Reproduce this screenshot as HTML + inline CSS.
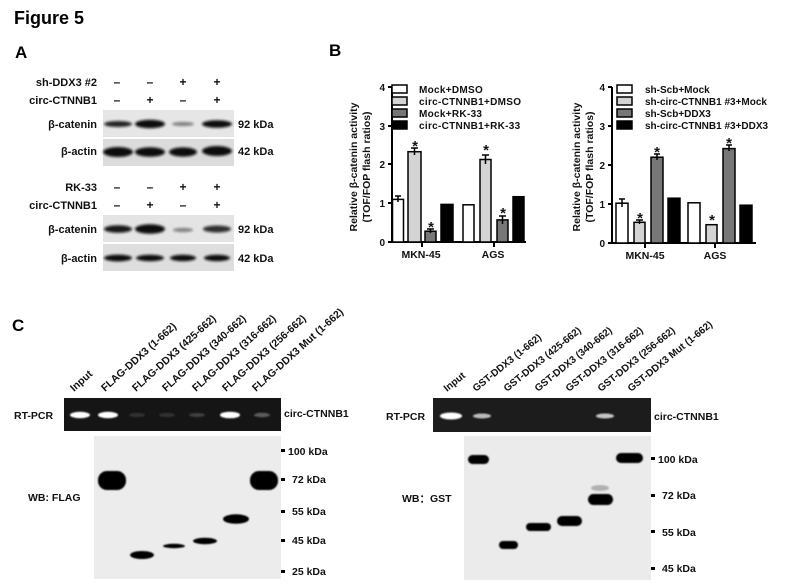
<!DOCTYPE html>
<html><head><meta charset="utf-8"><style>
html,body{margin:0;padding:0;background:#fff;}
svg{display:block;font-family:"Liberation Sans",Arial,sans-serif;}
</style></head><body>
<svg width="804" height="586" viewBox="0 0 804 586" xmlns="http://www.w3.org/2000/svg">
<defs>
<filter id="b1" x="-50%" y="-100%" width="200%" height="300%"><feGaussianBlur stdDeviation="1.3"/></filter>
<filter id="b2" x="-50%" y="-100%" width="200%" height="300%"><feGaussianBlur stdDeviation="0.8"/></filter>
</defs>
<rect width="804" height="586" fill="#fff"/>
<text x="14" y="24" font-size="18" font-weight="bold">Figure 5</text>
<text x="15" y="58" font-size="17" font-weight="bold">A</text>
<text x="329" y="56" font-size="17" font-weight="bold">B</text>
<text x="12" y="331" font-size="17" font-weight="bold">C</text>

<!-- Panel A -->
<g font-size="11" font-weight="bold" fill="#111">
<text x="97" y="86" text-anchor="end">sh-DDX3 #2</text>
<text x="97" y="104" text-anchor="end">circ-CTNNB1</text>
<text x="97" y="191" text-anchor="end">RK-33</text>
<text x="97" y="209" text-anchor="end">circ-CTNNB1</text>
<text x="97" y="128" text-anchor="end">β-catenin</text>
<text x="97" y="155" text-anchor="end">β-actin</text>
<text x="97" y="233" text-anchor="end">β-catenin</text>
<text x="97" y="262" text-anchor="end">β-actin</text>
<text x="238" y="128">92 kDa</text>
<text x="238" y="155">42 kDa</text>
<text x="238" y="233">92 kDa</text>
<text x="238" y="262">42 kDa</text>
<g text-anchor="middle" font-size="12">
<text x="117" y="86">–</text><text x="150" y="86">–</text><text x="183" y="86">+</text><text x="217" y="86">+</text>
<text x="117" y="104">–</text><text x="150" y="104">+</text><text x="183" y="104">–</text><text x="217" y="104">+</text>
<text x="117" y="191">–</text><text x="150" y="191">–</text><text x="183" y="191">+</text><text x="217" y="191">+</text>
<text x="117" y="209">–</text><text x="150" y="209">+</text><text x="183" y="209">–</text><text x="217" y="209">+</text>
</g>
</g>
<rect x="103" y="110" width="131" height="27" fill="#e6e6e6"/>
<rect x="103" y="139" width="131" height="27" fill="#dcdcdc"/>
<rect x="103" y="215" width="131" height="27" fill="#e4e4e4"/>
<rect x="103" y="244" width="131" height="27" fill="#dedede"/>
<g filter="url(#b1)" fill="#111">
<ellipse cx="118" cy="124" rx="14" ry="3" opacity="0.9"/>
<ellipse cx="150" cy="124" rx="15" ry="4.2"/>
<ellipse cx="183" cy="124" rx="11" ry="2" opacity="0.5"/>
<ellipse cx="217" cy="124" rx="15" ry="3.8"/>
<ellipse cx="118" cy="152" rx="15" ry="5"/>
<ellipse cx="150" cy="152" rx="15" ry="4.8"/>
<ellipse cx="183" cy="152" rx="14" ry="4.6"/>
<ellipse cx="217" cy="151" rx="15" ry="5"/>
<ellipse cx="118" cy="229" rx="14" ry="3.8" opacity="0.95"/>
<ellipse cx="150" cy="229" rx="15" ry="4.8"/>
<ellipse cx="183" cy="230" rx="10" ry="2" opacity="0.5"/>
<ellipse cx="217" cy="229" rx="14" ry="3.5" opacity="0.85"/>
<ellipse cx="118" cy="258" rx="14" ry="3.4"/>
<ellipse cx="150" cy="258" rx="14" ry="3.2"/>
<ellipse cx="183" cy="258" rx="13" ry="3.2"/>
<ellipse cx="217" cy="258" rx="13" ry="3.2"/>
</g>

<!-- Panel B chart 1 -->
<g font-weight="bold" fill="#111">
<g stroke="#000" stroke-width="2" fill="none">
<path d="M392 87 V242 H526"/>
<path d="M388 87 H392 M388 126 H392 M388 164 H392 M388 203 H392 M388 242 H392"/>
<path d="M422 242 V247 M494 242 V247"/>
</g>
<g font-size="10" text-anchor="end"><text x="385" y="91">4</text><text x="385" y="130">3</text><text x="385" y="168">2</text><text x="385" y="207">1</text><text x="385" y="246">0</text></g>
<g font-size="10.5" text-anchor="middle"><text x="421" y="258">MKN-45</text><text x="493" y="258">AGS</text></g>
<g font-size="10.5" text-anchor="middle">
<text transform="translate(357,167) rotate(-90)">Relative β-catenin activity</text>
<text transform="translate(370,167) rotate(-90)">(TOF/FOP flash ratios)</text>
</g>
<g stroke="#000" stroke-width="1.5">
<rect x="392.5" y="199.4" width="11" height="42.6" fill="#fff"/>
<rect x="408" y="151.7" width="13" height="90.3" fill="#d4d4d4"/>
<rect x="425" y="231.2" width="11" height="10.8" fill="#777"/>
<rect x="441" y="204.4" width="12" height="37.6" fill="#000"/>
<rect x="463" y="204.8" width="11" height="37.2" fill="#fff"/>
<rect x="480" y="159.5" width="11" height="82.5" fill="#d4d4d4"/>
<rect x="497" y="219.9" width="11" height="22.1" fill="#777"/>
<rect x="513" y="196.7" width="11" height="45.3" fill="#000"/>
<path d="M398 196 V202 M395 196 H401 M414.5 148 V155 M411 148 H418 M430.5 229 V233 M427 229 H434 M485.5 155 V164 M482 155 H489 M502.5 216 V224 M499 216 H506" fill="none"/>
</g>
<g font-size="15" text-anchor="middle"><text x="415" y="151">*</text><text x="431" y="232">*</text><text x="486" y="155">*</text><text x="503" y="218">*</text></g>
<g font-size="10" letter-spacing="0.3">
<rect x="392" y="85" width="15" height="8" fill="#fff" stroke="#000" stroke-width="1.5"/><text x="419" y="93">Mock+DMSO</text>
<rect x="392" y="97" width="15" height="8" fill="#d4d4d4" stroke="#000" stroke-width="1.5"/><text x="419" y="105">circ-CTNNB1+DMSO</text>
<rect x="392" y="109" width="15" height="8" fill="#777" stroke="#000" stroke-width="1.5"/><text x="419" y="117">Mock+RK-33</text>
<rect x="392" y="121" width="15" height="8" fill="#000" stroke="#000" stroke-width="1.5"/><text x="419" y="129">circ-CTNNB1+RK-33</text>
</g>
</g>

<!-- Panel B chart 2 -->
<g font-weight="bold" fill="#111">
<g stroke="#000" stroke-width="2" fill="none">
<path d="M612 87 V243 H756"/>
<path d="M608 87 H612 M608 126 H612 M608 165 H612 M608 204 H612 M608 243 H612"/>
<path d="M645 243 V248 M715 243 V248"/>
</g>
<g font-size="10" text-anchor="end"><text x="605" y="91">4</text><text x="605" y="130">3</text><text x="605" y="169">2</text><text x="605" y="208">1</text><text x="605" y="247">0</text></g>
<g font-size="10.5" text-anchor="middle"><text x="645" y="259">MKN-45</text><text x="715" y="259">AGS</text></g>
<g font-size="10.5" text-anchor="middle">
<text transform="translate(580,167) rotate(-90)">Relative β-catenin activity</text>
<text transform="translate(593,167) rotate(-90)">(TOF/FOP flash ratios)</text>
</g>
<g stroke="#000" stroke-width="1.5">
<rect x="616" y="203.2" width="12" height="39.8" fill="#fff"/>
<rect x="634" y="222.3" width="11" height="20.7" fill="#d4d4d4"/>
<rect x="651" y="157.2" width="12" height="85.8" fill="#777"/>
<rect x="668" y="198.2" width="12" height="44.8" fill="#000"/>
<rect x="688" y="202.8" width="12" height="40.2" fill="#fff"/>
<rect x="706" y="224.7" width="11" height="18.3" fill="#d4d4d4"/>
<rect x="723" y="148.6" width="12" height="94.4" fill="#777"/>
<rect x="740" y="205.2" width="12" height="37.8" fill="#000"/>
<path d="M622 199 V207 M619 199 H625 M639.5 220 V224 M636 220 H643 M657 154 V160 M654 154 H660 M729 145 V151 M726 145 H732" fill="none"/>
</g>
<g font-size="15" text-anchor="middle"><text x="640" y="223">*</text><text x="657" y="157">*</text><text x="712" y="225">*</text><text x="729" y="148">*</text></g>
<g font-size="10">
<rect x="617" y="85" width="15" height="8" fill="#fff" stroke="#000" stroke-width="1.5"/><text x="645" y="93">sh-Scb+Mock</text>
<rect x="617" y="97" width="15" height="8" fill="#d4d4d4" stroke="#000" stroke-width="1.5"/><text x="645" y="105">sh-circ-CTNNB1 #3+Mock</text>
<rect x="617" y="109" width="15" height="8" fill="#777" stroke="#000" stroke-width="1.5"/><text x="645" y="117">sh-Scb+DDX3</text>
<rect x="617" y="121" width="15" height="8" fill="#000" stroke="#000" stroke-width="1.5"/><text x="645" y="129">sh-circ-CTNNB1 #3+DDX3</text>
</g>
</g>

<!-- Panel C left -->
<g font-size="10.5" font-weight="bold" fill="#111">
<text transform="translate(74,392) rotate(-42)">Input</text>
<text transform="translate(105,392) rotate(-42)">FLAG-DDX3 (1-662)</text>
<text transform="translate(136,392) rotate(-42)">FLAG-DDX3 (425-662)</text>
<text transform="translate(166,392) rotate(-42)">FLAG-DDX3 (340-662)</text>
<text transform="translate(196,392) rotate(-42)">FLAG-DDX3 (316-662)</text>
<text transform="translate(226,392) rotate(-42)">FLAG-DDX3 (256-662)</text>
<text transform="translate(256,392) rotate(-42)">FLAG-DDX3 Mut (1-662)</text>
<text x="14" y="419">RT-PCR</text>
<text x="284" y="417">circ-CTNNB1</text>
<text x="28" y="501">WB: FLAG</text>
<text x="288" y="455">100 kDa</text>
<text x="292" y="483">72 kDa</text>
<text x="292" y="515">55 kDa</text>
<text x="292" y="544">45 kDa</text>
<text x="292" y="575">25 kDa</text>
</g>
<rect x="64" y="398" width="217" height="33" fill="#151515"/>
<g filter="url(#b2)" fill="#fff">
<ellipse cx="80" cy="415" rx="10" ry="3.2"/>
<ellipse cx="108" cy="415" rx="10" ry="3.2"/>
<ellipse cx="137" cy="415" rx="8" ry="2" opacity="0.12"/>
<ellipse cx="167" cy="415" rx="8" ry="2" opacity="0.12"/>
<ellipse cx="197" cy="415" rx="8" ry="2" opacity="0.18"/>
<ellipse cx="230" cy="415" rx="10" ry="3.3"/>
<ellipse cx="262" cy="415" rx="8" ry="2.2" opacity="0.3"/>
</g>
<rect x="94" y="436" width="187" height="143" fill="#ececec"/>
<g fill="#000">
<rect x="281" y="449" width="4" height="3"/><rect x="281" y="478" width="4" height="3"/><rect x="281" y="510" width="4" height="3"/><rect x="281" y="539" width="4" height="3"/><rect x="281" y="570" width="4" height="3"/>
</g>
<g filter="url(#b2)" fill="#000">
<rect x="98" y="471" width="28" height="19" rx="9"/>
<rect x="250" y="471" width="28" height="19" rx="9"/>
<ellipse cx="142" cy="555" rx="12" ry="4"/>
<ellipse cx="174" cy="546" rx="11" ry="2.2"/>
<ellipse cx="205" cy="541" rx="12" ry="3.2"/>
<ellipse cx="236" cy="519" rx="13" ry="4.8"/>
</g>

<!-- Panel C right -->
<g font-size="10" font-weight="bold" fill="#111">
<text transform="translate(447,392) rotate(-39)">Input</text>
<text transform="translate(476,392) rotate(-39)">GST-DDX3 (1-662)</text>
<text transform="translate(507,392) rotate(-39)">GST-DDX3 (425-662)</text>
<text transform="translate(538,392) rotate(-39)">GST-DDX3 (340-662)</text>
<text transform="translate(569,392) rotate(-39)">GST-DDX3 (316-662)</text>
<text transform="translate(601,392) rotate(-39)">GST-DDX3 (256-662)</text>
<text transform="translate(631,392) rotate(-39)">GST-DDX3 Mut (1-662)</text>
</g>
<g font-size="10.5" font-weight="bold" fill="#111">
<text x="386" y="420">RT-PCR</text>
<text x="654" y="420">circ-CTNNB1</text>
<text x="402" y="502">WB：GST</text>
<text x="658" y="463">100 kDa</text>
<text x="662" y="499">72 kDa</text>
<text x="662" y="536">55 kDa</text>
<text x="662" y="572">45 kDa</text>
</g>
<rect x="433" y="398" width="218" height="34" fill="#1c1c1c"/>
<g filter="url(#b2)" fill="#fff">
<ellipse cx="451" cy="416" rx="11" ry="3.5"/>
<ellipse cx="482" cy="416" rx="9" ry="2.5" opacity="0.7"/>
<ellipse cx="605" cy="416" rx="9" ry="2.5" opacity="0.75"/>
</g>
<rect x="464" y="436" width="187" height="144" fill="#ebebeb"/>
<g fill="#000">
<rect x="651" y="457" width="4" height="3"/><rect x="651" y="494" width="4" height="3"/><rect x="651" y="530" width="4" height="3"/><rect x="651" y="567" width="4" height="3"/>
</g>
<g filter="url(#b2)" fill="#000">
<rect x="468" y="455" width="21" height="9" rx="4.5"/>
<rect x="499" y="541" width="19" height="8" rx="4"/>
<rect x="526" y="523" width="25" height="8" rx="4"/>
<rect x="557" y="516" width="25" height="10" rx="5"/>
<rect x="588" y="494" width="25" height="11" rx="5.5"/>
<ellipse cx="600" cy="488" rx="9" ry="3" opacity="0.25"/>
<rect x="616" y="453" width="27" height="10" rx="5"/>
</g>
</svg>
</body></html>
